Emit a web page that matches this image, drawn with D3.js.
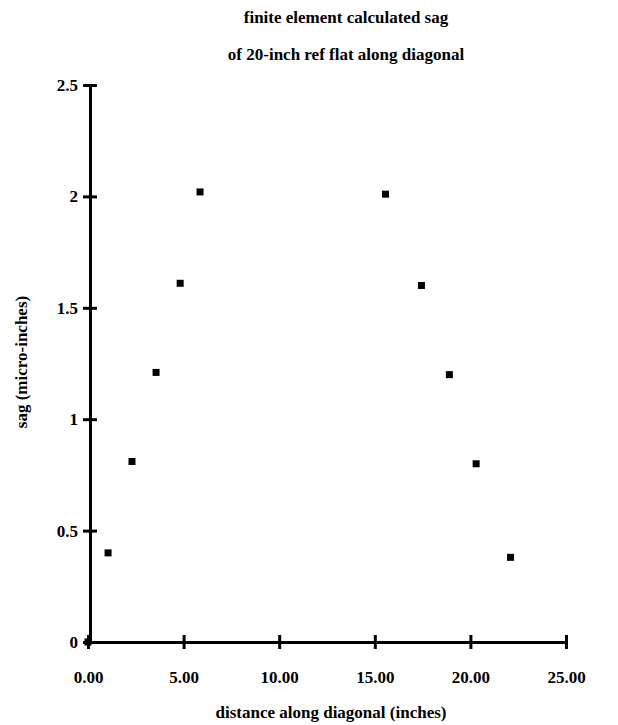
<!DOCTYPE html>
<html>
<head>
<meta charset="utf-8">
<script src="https://cdn.jsdelivr.net/npm/d3@7"></script>
<style>
  body { margin: 0; background: #fff; }
  text { font-family: "Liberation Serif", "Times New Roman", serif; font-weight: bold; fill: #000; }
</style>
</head>
<body>
<script>
const distance = [0, 1.05, 2.3, 3.56, 4.82, 5.86, 15.56, 17.44, 18.9, 20.3, 22.1]
const sag = [0, 0.4, 0.81, 1.21, 1.61, 2.02, 2.01, 1.6, 1.2, 0.8, 0.38]
const xTicks = [0, 5, 10, 15, 20, 25]
const yTicks = [0, 0.5, 1, 1.5, 2, 2.5]
const titleLines = ['finite element calculated sag', 'of 20-inch ref flat along diagonal']

const width = 618
const height = 725
const margin = { top: 85, right: 52, bottom: 83, left: 88 }
const fontSize = '17px'

const svg = d3.select('body')
  .append('svg')
  .attr('width', width)
  .attr('height', height)

const xScale = d3.scaleLinear()
  .domain([0, 25])
  .range([margin.left, width - margin.right])

const yScale = d3.scaleLinear()
  .domain([0, 2.5])
  .range([height - margin.bottom, margin.top])

// title
svg.append('g')
  .selectAll('text')
  .data(titleLines)
  .enter()
  .append('text')
  .attr('x', 346)
  .attr('y', (d, i) => 23 + i * 37)
  .attr('text-anchor', 'middle')
  .style('font-size', fontSize)
  .text(d => d)

// x axis
const xAxis = svg.append('g')
  .attr('transform', `translate(0, ${yScale(0)})`)
  .call(d3.axisBottom(xScale)
    .tickValues(xTicks)
    .tickSize(0)
    .tickPadding(29)
    .tickFormat(d3.format('.2f')))
xAxis.select('.domain').attr('stroke', '#000').attr('stroke-width', 3)
xAxis.selectAll('.tick text')
  .style('font-size', fontSize)
  .style('font-family', '"Liberation Serif", serif')
  .style('font-weight', 'bold')
xAxis.selectAll('.tick')
  .append('line')
  .attr('y1', -7)
  .attr('y2', 7)
  .attr('stroke', '#000')
  .attr('stroke-width', 3)

// y axis
const yAxis = svg.append('g')
  .attr('transform', `translate(${xScale(0) + 2}, 0)`)
  .call(d3.axisLeft(yScale)
    .tickValues(yTicks)
    .tickSize(0)
    .tickPadding(12)
    .tickFormat(d3.format('')))
yAxis.select('.domain').attr('stroke', '#000').attr('stroke-width', 3)
yAxis.selectAll('.tick text')
  .style('font-size', fontSize)
  .style('font-family', '"Liberation Serif", serif')
  .style('font-weight', 'bold')
yAxis.selectAll('.tick')
  .append('line')
  .attr('x1', -7)
  .attr('x2', 7)
  .attr('stroke', '#000')
  .attr('stroke-width', 3)

// axis titles
svg.append('text')
  .attr('x', 331)
  .attr('y', 718)
  .attr('text-anchor', 'middle')
  .style('font-size', fontSize)
  .text('distance along diagonal (inches)')

svg.append('text')
  .attr('transform', 'translate(27, 362) rotate(-90)')
  .attr('text-anchor', 'middle')
  .style('font-size', fontSize)
  .text('sag (micro-inches)')

// points
const pts = distance.map((d, i) => ({ x: d, y: sag[i] }))
svg.append('g')
  .selectAll('rect')
  .data(pts)
  .enter()
  .append('rect')
  .attr('x', d => xScale(d.x) - 3.5)
  .attr('y', d => yScale(d.y) - 3.5)
  .attr('width', 7)
  .attr('height', 7)
  .attr('fill', '#000')
</script>
</body>
</html>
